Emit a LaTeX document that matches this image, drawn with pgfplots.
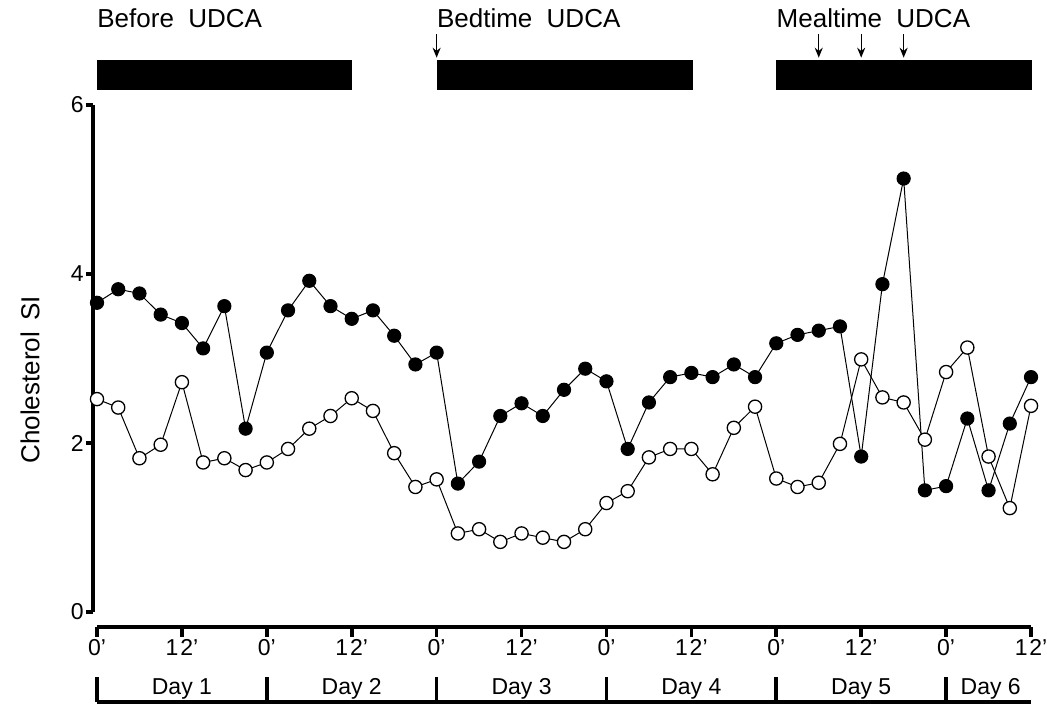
\documentclass[border=0pt]{standalone}
\usepackage{pgfplots}
\pgfplotsset{compat=1.18}
\usepackage{pgfplotstable}
\usepackage{fontspec}
\setmainfont{Liberation Sans}
\usetikzlibrary{arrows.meta}
\newcommand\pr{\char"2019\relax}

\pgfplotstableread{
h filled open
0   3.66 2.52
3   3.82 2.42
6   3.77 1.82
9   3.52 1.98
12  3.42 2.72
15  3.12 1.77
18  3.62 1.82
21  2.17 1.68
24  3.07 1.77
27  3.57 1.93
30  3.92 2.17
33  3.62 2.32
36  3.47 2.53
39  3.57 2.38
42  3.27 1.88
45  2.93 1.48
48  3.07 1.57
51  1.52 0.93
54  1.78 0.98
57  2.32 0.83
60  2.47 0.93
63  2.32 0.88
66  2.63 0.83
69  2.88 0.98
72  2.73 1.29
75  1.93 1.43
78  2.48 1.83
81  2.78 1.93
84  2.83 1.93
87  2.78 1.63
90  2.93 2.18
93  2.78 2.43
96  3.18 1.58
99  3.28 1.48
102 3.33 1.53
105 3.38 1.99
108 1.84 2.99
111 3.88 2.54
114 5.13 2.48
117 1.44 2.04
120 1.49 2.84
123 2.29 3.13
126 1.44 1.84
129 2.23 1.23
132 2.78 2.44
}\data

\begin{document}
\begin{tikzpicture}
\begin{axis}[
  scale only axis,
  x=3.538pt, y=42.25pt,
  xmin=-0.57, xmax=132, ymin=0, ymax=6,
  axis x line=none, axis y line=left,
  axis line style={-, line width=2pt},
  ytick={0,2,4,6}, yticklabels={0,2,4,6},
  xtick=\empty,
  tick align=outside, major tick length=3.5pt,
  ytick style={line width=1.6pt, black},
  yticklabel style={font=\fontsize{11.5}{13}\selectfont, inner sep=1pt},
  clip=false,
]
\addplot[black, line width=0.5pt, mark=*, mark size=3.3pt,
  mark options={fill=white, line width=0.65pt}] table[x=h, y=open] {\data};
\addplot[black, line width=0.5pt, mark=*, mark size=3.3pt,
  mark options={fill=black}] table[x=h, y=filled] {\data};

% x axis (hours)
\draw[line width=1.8pt] (axis cs:0,-0.178) -- (axis cs:132,-0.178);
\pgfplotsinvokeforeach{0,12,...,132}{
  \draw[line width=1.8pt] (axis cs:#1,-0.178) -- (axis cs:#1,-0.30);
}
\pgfplotsinvokeforeach{0,24,...,120}{
  \node[anchor=north, inner sep=0pt, font=\fontsize{11.5}{13}\selectfont] at (axis cs:#1,-0.32) {0\pr};
}
\pgfplotsinvokeforeach{12,36,...,132}{
  \node[anchor=north, inner sep=0pt, font=\fontsize{11.5}{13}\selectfont] at (axis cs:#1,-0.32) {1\hspace{0.08em}2\pr};
}
% day brackets
\draw[line width=1.8pt] (axis cs:0,-1.065) -- (axis cs:132,-1.065);
\pgfplotsinvokeforeach{0,24,...,120}{
  \draw[line width=1.8pt] (axis cs:#1,-1.065) -- (axis cs:#1,-0.77);
}
\node[font=\fontsize{11.5}{13}\selectfont] at (axis cs:12,-0.91) {Day 1};
\node[font=\fontsize{11.5}{13}\selectfont] at (axis cs:36,-0.91) {Day 2};
\node[font=\fontsize{11.5}{13}\selectfont] at (axis cs:60,-0.91) {Day 3};
\node[font=\fontsize{11.5}{13}\selectfont] at (axis cs:84,-0.91) {Day 4};
\node[font=\fontsize{11.5}{13}\selectfont] at (axis cs:108,-0.91) {Day 5};
\node[font=\fontsize{11.5}{13}\selectfont] at (axis cs:126.3,-0.91) {Day 6};

% treatment bars
\fill[black] (axis cs:0,6.178) rectangle (axis cs:36,6.533);
\fill[black] (axis cs:48,6.178) rectangle (axis cs:84.2,6.533);
\fill[black] (axis cs:96,6.178) rectangle (axis cs:132.1,6.533);
\node[anchor=base west, inner sep=0pt, font=\fontsize{13}{15}\selectfont] at (axis cs:0,6.92) {Before\hspace{0.55em}UDCA};
\node[anchor=base west, inner sep=0pt, font=\fontsize{13}{15}\selectfont] at (axis cs:48,6.92) {Bedtime\hspace{0.55em}UDCA};
\node[anchor=base west, inner sep=0pt, font=\fontsize{13}{15}\selectfont] at (axis cs:96,6.92) {Mealtime\hspace{0.55em}UDCA};
\pgfplotsinvokeforeach{48,102,108,114}{
  \draw[line width=0.7pt, -{Stealth[length=5pt,width=4pt]}] (axis cs:#1,6.84) -- (axis cs:#1,6.56);
}

\node[rotate=90, font=\fontsize{13}{15}\selectfont] at (axis cs:-9.47,2.75) {Cholesterol\hspace{0.45em}SI};

\coordinate (bl) at (axis cs:-13.708,-1.112);
\coordinate (tr) at (axis cs:134.26,7.243);
\end{axis}
\pgfresetboundingbox
\path[use as bounding box] (bl) rectangle (tr);
\end{tikzpicture}
\end{document}
